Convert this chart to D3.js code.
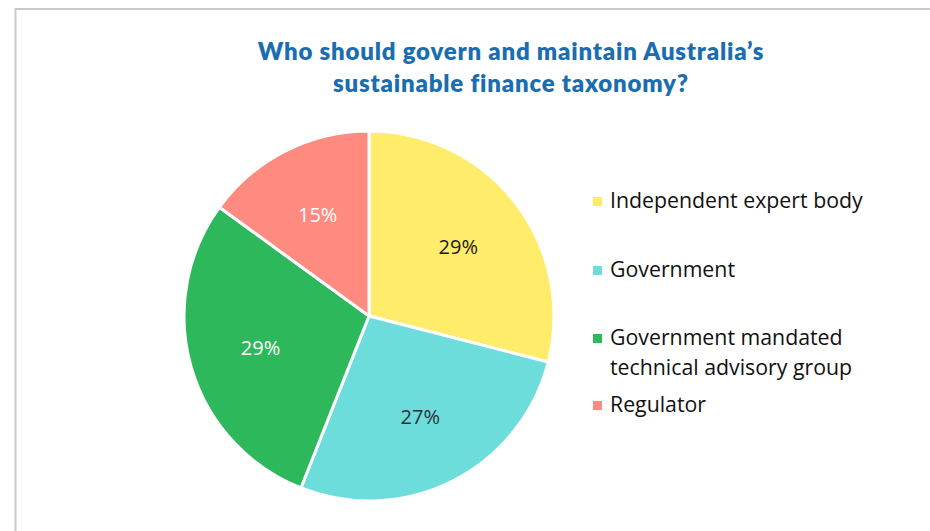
<!DOCTYPE html>
<html>
<head>
<meta charset="utf-8">
<script src="https://cdn.jsdelivr.net/npm/d3@7"></script>
<style>
  html, body { margin: 0; padding: 0; background: #fff; }
  svg { display: block; }
</style>
</head>
<body>
<svg id="chart" width="930" height="531"></svg>
<script>
const titleLines = ["Who should govern and maintain Australia\u2019s", "sustainable finance taxonomy?"];
const categories = ["Independent expert body", "Government", "Government mandated technical advisory group", "Regulator"];
const legendLines = [["Independent expert body"], ["Government"], ["Government mandated", "technical advisory group"], ["Regulator"]];
const values = [29, 27, 29, 15];
const sliceLabels = ["29%", "27%", "29%", "15%"];
const colors = ["#FFEC6A", "#6DDDDC", "#2EB85C", "#FF8A80"];
const labelColors = ["#1a1a1a", "#2e2e3a", "#ffffff", "#ffffff"];

const svg = d3.select("#chart");

// frame lines (top and left)
svg.append("line").attr("x1", 15.5).attr("y1", 9).attr("x2", 930).attr("y2", 9)
  .attr("stroke", "#c9c9c9").attr("stroke-width", 2);
svg.append("line").attr("x1", 15.5).attr("y1", 8).attr("x2", 15.5).attr("y2", 531)
  .attr("stroke", "#c9c9c9").attr("stroke-width", 2);

// title
svg.append("text")
  .attr("x", 511).attr("y", 60)
  .attr("text-anchor", "middle")
  .attr("font-family", "Lato, 'Open Sans', sans-serif")
  .attr("font-weight", 800)
  .attr("font-size", 24)
  .attr("letter-spacing", 0.8)
  .attr("fill", "#1B6DB1")
  .selectAll("tspan").data(titleLines).join("tspan")
  .attr("x", 511).attr("dy", (d, i) => i === 0 ? 0 : 32)
  .text(d => d);

// pie
const cx = 369, cy = 316, r = 185;
const pie = d3.pie().sort(null).value(d => d);
const arcs = pie(values);
const arc = d3.arc().innerRadius(0).outerRadius(r);
const labelArc = d3.arc().innerRadius(0).outerRadius(226);

const g = svg.append("g").attr("transform", `translate(${cx},${cy})`);
g.selectAll("path").data(arcs).join("path")
  .attr("d", arc)
  .attr("fill", (d, i) => colors[i])
  .attr("stroke", "#fff")
  .attr("stroke-width", 3)
  .attr("stroke-linejoin", "round");

g.selectAll("text.lbl").data(arcs).join("text")
  .attr("class", "lbl")
  .attr("transform", d => `translate(${labelArc.centroid(d)})`)
  .attr("text-anchor", "middle")
  .attr("dy", "0.35em")
  .attr("font-family", "'Open Sans', sans-serif")
  .attr("font-size", 20)
  .attr("fill", (d, i) => labelColors[i])
  .text((d, i) => sliceLabels[i]);

// legend
const legendY = [208, 277, 345, 412];
const lg = svg.append("g");
legendLines.forEach((lines, i) => {
  lg.append("rect")
    .attr("x", 593).attr("y", legendY[i] - 11)
    .attr("width", 9).attr("height", 9)
    .attr("fill", colors[i]);
  const t = lg.append("text")
    .attr("x", 610).attr("y", legendY[i])
    .attr("font-family", "'Open Sans', sans-serif")
    .attr("font-size", 21.3)
    .attr("fill", "#111");
  lines.forEach((ln, j) => {
    t.append("tspan").attr("x", 610).attr("dy", j === 0 ? 0 : 30).text(ln);
  });
});
</script>
</body>
</html>
